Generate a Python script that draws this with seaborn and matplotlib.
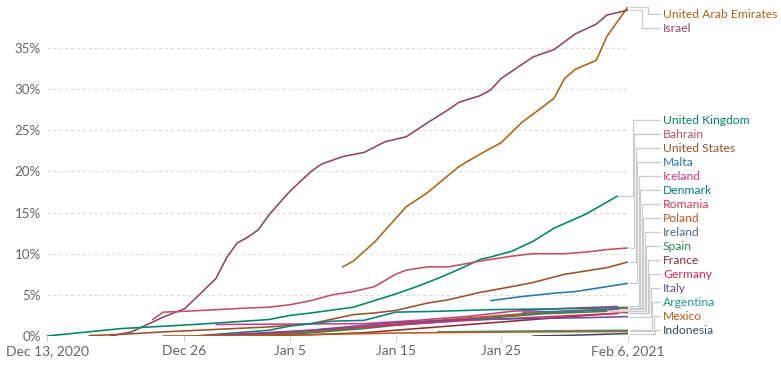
import numpy as np
import pandas as pd
import matplotlib
matplotlib.use("Agg")
import matplotlib.pyplot as plt
import matplotlib.dates as mdates
from matplotlib.lines import Line2D
import seaborn as sns

# ---------------- data (day offset from 2020-12-13, % of population) ----------------
start_date = "2020-12-13"

israel_days = [6, 8, 9, 11, 13, 14, 16, 17, 18, 19, 20, 21, 23, 25, 26, 28, 30, 32, 34, 36, 38, 39, 41, 42, 43, 46, 48, 50, 52, 53, 55]
israel_vals = [0.0, 0.5, 1.1, 2.3, 3.3, 4.5, 7.0, 9.5, 11.3, 12.0, 12.9, 14.7, 17.6, 20.0, 20.9, 21.8, 22.3, 23.6, 24.2, 25.9, 27.5, 28.4, 29.2, 29.9, 31.3, 33.9, 34.8, 36.7, 37.9, 39.0, 39.6]

uae_days = [28, 29, 31, 34, 36, 39, 41, 43, 45, 47, 48, 49, 50, 52, 53, 55]
uae_vals = [8.4, 9.1, 11.4, 15.7, 17.4, 20.6, 22.1, 23.5, 26.0, 27.9, 28.9, 31.3, 32.4, 33.5, 36.4, 40.0]

uk_days = [0, 7, 14, 21, 23, 25, 29, 31, 33, 35, 37, 39, 41, 42, 44, 46, 48, 51, 54]
uk_vals = [0.0, 0.9, 1.4, 2.0, 2.5, 2.8, 3.5, 4.3, 5.1, 6.0, 7.0, 8.1, 9.3, 9.6, 10.3, 11.5, 13.1, 14.8, 17.0]

bahrain_days = [10, 11, 13, 16, 19, 21, 23, 25, 27, 29, 31, 33, 34, 36, 38, 41, 44, 46, 49, 51, 53, 55]
bahrain_vals = [2.0, 2.9, 3.0, 3.2, 3.4, 3.5, 3.8, 4.3, 5.0, 5.4, 6.0, 7.5, 8.0, 8.4, 8.4, 9.1, 9.7, 10.0, 10.0, 10.2, 10.5, 10.7]

us_days = [4, 7, 11, 16, 21, 25, 29, 31, 33, 36, 38, 41, 44, 46, 49, 51, 53, 55]
us_vals = [0.05, 0.2, 0.5, 0.8, 1.1, 1.5, 2.6, 2.8, 3.1, 4.0, 4.4, 5.3, 6.0, 6.5, 7.5, 7.9, 8.3, 9.0]

malta_days = [42, 45, 48, 50, 53, 55]
malta_vals = [4.3, 4.8, 5.2, 5.4, 6.0, 6.4]

iceland_days = [16, 30, 35, 40, 44, 48, 54]
iceland_vals = [1.4, 1.5, 1.9, 2.4, 3.0, 3.3, 3.6]

denmark_days = [14, 21, 23, 27, 30, 33, 37, 42, 48, 55]
denmark_vals = [0.0, 0.7, 1.2, 1.8, 1.9, 2.9, 3.0, 3.2, 3.3, 3.45]

romania_days = [14, 19, 25, 30, 35, 40, 45, 50, 55]
romania_vals = [0.0, 0.1, 0.5, 1.0, 1.6, 2.1, 2.6, 3.0, 3.35]

poland_days = [14, 18, 24, 30, 35, 40, 45, 50, 55]
poland_vals = [0.0, 0.05, 0.4, 1.1, 1.7, 2.2, 2.7, 3.1, 3.3]

ireland_days = [45, 49, 54]
ireland_vals = [2.9, 3.0, 3.25]

spain_days = [21, 25, 30, 33, 37, 42, 47, 53]
spain_vals = [0.05, 0.4, 0.9, 1.3, 1.7, 2.2, 2.7, 3.0]

france_days = [14, 20, 25, 30, 35, 40, 45, 50, 55]
france_vals = [0.0, 0.05, 0.15, 0.4, 0.9, 1.4, 1.9, 2.4, 2.85]

germany_days = [14, 19, 25, 30, 35, 40, 45, 50, 54]
germany_vals = [0.0, 0.3, 0.7, 1.1, 1.5, 1.9, 2.2, 2.5, 2.75]

italy_days = [14, 19, 24, 30, 34, 40, 45, 50, 55]
italy_vals = [0.0, 0.2, 0.6, 1.3, 1.7, 2.0, 2.1, 2.2, 2.35]

argentina_days = [37, 45, 55]
argentina_vals = [0.5, 0.6, 0.7]

mexico_days = [11, 18, 26, 33, 40, 47, 55]
mexico_vals = [0.0, 0.05, 0.2, 0.35, 0.45, 0.5, 0.55]

indonesia_days = [46, 50, 55]
indonesia_vals = [0.0, 0.1, 0.3]

countries = ["United Arab Emirates", "Israel", "United Kingdom", "Bahrain", "United States",
             "Malta", "Iceland", "Denmark", "Romania", "Poland", "Ireland", "Spain", "France",
             "Germany", "Italy", "Argentina", "Mexico", "Indonesia"]
series_days = [uae_days, israel_days, uk_days, bahrain_days, us_days, malta_days, iceland_days,
               denmark_days, romania_days, poland_days, ireland_days, spain_days, france_days,
               germany_days, italy_days, argentina_days, mexico_days, indonesia_days]
series_vals = [uae_vals, israel_vals, uk_vals, bahrain_vals, us_vals, malta_vals, iceland_vals,
               denmark_vals, romania_vals, poland_vals, ireland_vals, spain_vals, france_vals,
               germany_vals, italy_vals, argentina_vals, mexico_vals, indonesia_vals]
colors = ["#B16214", "#8C4569", "#00875E", "#C15065", "#9A5129", "#2A77B0", "#CF3A86",
          "#00847E", "#D73C50", "#C4541C", "#4C6A9C", "#2C8A4C", "#883039", "#DE2A5E",
          "#6D4E9E", "#1C9A8E", "#C05917", "#3C4E66"]

tick_days = [0, 13, 23, 33, 43, 55]
tick_labels = ["Dec 13, 2020", "Dec 26", "Jan 5", "Jan 15", "Jan 25", "Feb 6, 2021"]
y_ticks = [0, 5, 10, 15, 20, 25, 30, 35]

# ---------------- build frame ----------------
base = pd.Timestamp(start_date)
frames = []
for name, d, v in zip(countries, series_days, series_vals):
    frames.append(pd.DataFrame({"country": name,
                                "date": base + pd.to_timedelta(d, unit="D"),
                                "pct": v}))
df = pd.concat(frames, ignore_index=True)

# ---------------- figure ----------------
sns.set_theme(style="white")
plt.rcParams["font.family"] = ["Lato", "DejaVu Sans"]

W, H = 781, 366
fig = plt.figure(figsize=(W / 100, H / 100), dpi=100)
ax_left, ax_right, ax_bottom_px, ax_top_px = 47, 628, 336, 6.8
ax = fig.add_axes([ax_left / W, (H - ax_bottom_px) / H,
                   (ax_right - ax_left) / W, (ax_bottom_px - ax_top_px) / H])

palette = dict(zip(countries, colors))
sns.lineplot(data=df, x="date", y="pct", hue="country", hue_order=countries,
             palette=palette, legend=False, linewidth=1.15, estimator=None,
             sort=True, ax=ax)

ax.set_xlim(base, base + pd.Timedelta(days=55))
ax.set_ylim(0, 40)
ax.set_xlabel("")
ax.set_ylabel("")

for s in ax.spines.values():
    s.set_visible(False)

for yt in y_ticks[1:]:
    ax.axhline(yt, color="#dddddd", lw=0.9, ls=(0, (2.5, 2.2)), zorder=0)
ax.axhline(0, color="#cccccc", lw=0.9, zorder=0)

ax.set_yticks(y_ticks)
ax.set_yticklabels([f"{t}%" for t in y_ticks])
ax.tick_params(axis="y", length=0, pad=4.5, labelsize=9.6, labelcolor="#666666")

ax.set_xticks([base + pd.Timedelta(days=d) for d in tick_days])
ax.set_xticklabels(tick_labels)
ax.tick_params(axis="x", length=3.5, width=0.8, color="#cccccc", pad=3,
               labelsize=10, labelcolor="#666666", bottom=True)

# ---------------- end labels with connectors ----------------
fig.canvas.draw()
ends = []
for name, d, v, c in zip(countries, series_days, series_vals, colors):
    xd = mdates.date2num(base + pd.Timedelta(days=d[-1]))
    px, py = ax.transData.transform((xd, v[-1]))
    ends.append((name, c, px, H - py, v[-1]))  # y measured from top

ends.sort(key=lambda e: -e[4])
spacing, top_lim, bot_lim = 14, 14, 330
pos = []
for i, e in enumerate(ends):
    p = max(e[3], top_lim)
    if i > 0:
        p = max(p, pos[-1] + spacing)
    pos.append(p)
pos[-1] = min(pos[-1], bot_lim)
for i in range(len(pos) - 2, -1, -1):
    pos[i] = min(pos[i], pos[i + 1] - spacing)

# group contiguous labels
groups = [[0]]
for i in range(1, len(pos)):
    if abs(pos[i] - pos[i - 1] - spacing) < 0.5:
        groups[-1].append(i)
    else:
        groups.append([i])

label_x = 663
for g in groups:
    n = len(g)
    for k, i in enumerate(g):
        name, c, px, py, _ = ends[i]
        if n <= 2:
            xv = 648 - 6 * k
        else:
            xv = 633 + k * 22 / (n - 1)
        xs = [px + 2, xv, xv, label_x - 3]
        ys = [py, py, pos[i], pos[i]]
        fx = [x / W for x in xs]
        fy = [(H - y) / H for y in ys]
        fig.add_artist(Line2D(fx, fy, color="#cccccc", lw=0.9, transform=fig.transFigure,
                              zorder=1))
        fig.text(label_x / W, (H - pos[i]) / H, name, color=c, fontsize=8.7,
                 va="center", ha="left")

fig.savefig("out.png", dpi=100)
